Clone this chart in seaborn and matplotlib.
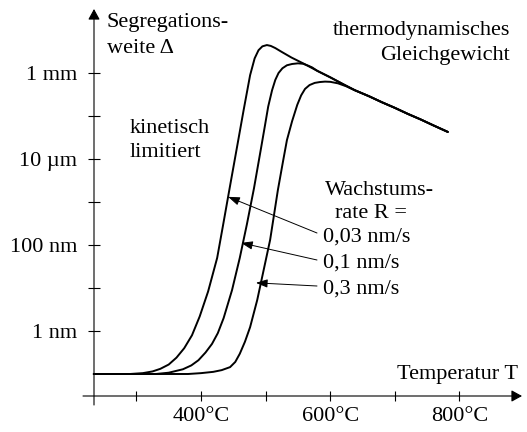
import numpy as np
import pandas as pd
import matplotlib
matplotlib.use('Agg')
import matplotlib.pyplot as plt
import seaborn as sns

# growth rates R, one curve each
rates = ['0,03 nm/s', '0,1 nm/s', '0,3 nm/s']

# temperature (°C) and log10 of segregation width (m), kinetic part of each curve
t_003 = [234, 290, 310, 325, 337, 350, 362, 374, 386, 398, 411, 425, 434, 445,
         456, 466, 476, 483, 489, 495, 502]
lg_003 = [-10.0, -10.0, -9.98, -9.94, -9.88, -9.78, -9.62, -9.40, -9.10, -8.66,
          -8.08, -7.30, -6.55, -5.62, -4.70, -3.86, -3.05, -2.66, -2.47, -2.38, -2.35]

t_01 = [234, 330, 350, 372, 385, 396, 407, 417, 426, 435, 448, 460, 471, 482,
        493, 499, 504, 510, 515, 520, 526, 533, 541, 550, 558, 566, 572]
lg_01 = [-10.0, -10.0, -9.97, -9.89, -9.80, -9.68, -9.50, -9.30, -9.05, -8.70,
         -8.05, -7.30, -6.52, -5.68, -4.74, -4.22, -3.78, -3.40, -3.16, -3.00,
         -2.89, -2.82, -2.79, -2.775, -2.785, -2.83, -2.87]

t_03 = [234, 380, 400, 419, 432, 445, 453, 460, 468, 476, 487, 496, 507, 519,
        527, 533, 541, 549, 555, 561, 568, 576, 584, 592, 600, 612, 625]
lg_03 = [-10.0, -10.0, -9.98, -9.95, -9.91, -9.84, -9.72, -9.53, -9.25, -8.91,
         -8.28, -7.65, -6.88, -5.72, -5.05, -4.56, -4.12, -3.74, -3.52, -3.37,
         -3.28, -3.23, -3.21, -3.20, -3.205, -3.24, -3.31]

# thermodynamic equilibrium line (shared once the curves join it)
t_eq = [508, 515, 525, 540, 560, 580, 600, 620, 638, 660, 680, 700, 720, 740, 760, 782]
lg_eq = [-2.37, -2.42, -2.51, -2.64, -2.79, -2.95, -3.10, -3.26, -3.40, -3.54,
         -3.68, -3.81, -3.95, -4.08, -4.22, -4.37]

y_ticks = [1e-9, 1e-7, 1e-5, 1e-3]
y_labels = ['1 nm', '100 nm', '10 µm', '1 mm']
y_minor = [1e-8, 1e-6, 1e-4]
x_ticks = [400, 600, 800]
x_labels = ['400°C', '600°C', '800°C']
x_minor = [300, 500, 700]

rows = []
for rate, ts, lgs, t_join in [(rates[0], t_003, lg_003, 505),
                              (rates[1], t_01, lg_01, 575),
                              (rates[2], t_03, lg_03, 630)]:
    for t, lg in zip(ts, lgs):
        rows.append((rate, t, 10.0 ** lg))
    for t, lg in zip(t_eq, lg_eq):
        if t > t_join:
            rows.append((rate, t, 10.0 ** lg))
df = pd.DataFrame(rows, columns=['rate', 'T', 'delta'])

sns.set_theme(style='white')
plt.rcParams['font.family'] = ['Liberation Serif', 'DejaVu Serif']
FS = 16

W, H = 527, 432
fig = plt.figure(figsize=(W / 100, H / 100), dpi=100)
ax = fig.add_axes([0, 0, 1, 1])


def fx(px):
    return px / W


def fy(py):
    return 1 - py / H


sns.lineplot(data=df, x='T', y='delta', hue='rate', palette=['black'] * 3,
             sort=False, estimator=None, linewidth=1.4, legend=False, ax=ax)

ax.set_yscale('log')
ax.set_xlim(88.85, 904.6)
ax.set_ylim(10 ** -11.349, 10 ** -1.302)
ax.set_xlabel('')
ax.set_ylabel('')

for s in ax.spines.values():
    s.set_color('none')
ax.spines['left'].set_position(('data', 234.4))
ax.spines['bottom'].set_position(('data', 10 ** -10.512))
ax.yaxis.set_ticks_position('left')
ax.xaxis.set_ticks_position('bottom')

ax.set_yticks(y_ticks, y_labels)
ax.set_yticks(y_minor, minor=True)
ax.yaxis.set_minor_formatter(matplotlib.ticker.NullFormatter())
ax.set_xticks(x_ticks, x_labels)
ax.set_xticks(x_minor, minor=True)
ax.tick_params(axis='y', which='both', direction='inout', length=8.6, width=0.8,
               pad=8, labelsize=FS, color='black', labelcolor='black')
ax.tick_params(axis='x', which='both', direction='inout', length=7.2, width=0.8,
               pad=4, labelsize=FS, color='black', labelcolor='black')
ax.grid(False)

# axis lines with arrow heads
ax_arrow = dict(arrowstyle='-|>,head_length=0.4,head_width=0.22', color='black',
                lw=0.8, mutation_scale=16, shrinkA=0, shrinkB=0)
ax.annotate('', xy=(fx(94), fy(9)), xytext=(fx(94), fy(405)),
            xycoords='axes fraction', textcoords='axes fraction', arrowprops=ax_arrow)
ax.annotate('', xy=(fx(522), fy(396)), xytext=(fx(83), fy(396)),
            xycoords='axes fraction', textcoords='axes fraction', arrowprops=ax_arrow)

txt = dict(transform=ax.transAxes, fontsize=FS, va='baseline', color='black')
ax.text(fx(107), fy(27), 'Segregations-', ha='left', **txt)
ax.text(fx(107), fy(53), 'weite Δ', ha='left', **txt)
ax.text(fx(510), fy(35), 'thermodynamisches', ha='right', **txt)
ax.text(fx(510), fy(60), 'Gleichgewicht', ha='right', **txt)
ax.text(fx(130), fy(133), 'kinetisch', ha='left', **txt)
ax.text(fx(130), fy(157), 'limitiert', ha='left', **txt)
ax.text(fx(325), fy(195), 'Wachstums-', ha='left', **txt)
ax.text(fx(335), fy(218), 'rate R =', ha='left', **txt)
ax.text(fx(518), fy(379), 'Temperatur T', ha='right', **txt)

# rate labels with arrows pointing to their curves
tips = [(442, 10 ** -5.88), (462, 10 ** -6.95), (485, 10 ** -7.88)]
tails = [233, 260, 286]
bases = [242, 268, 294]
rate_arrow = dict(arrowstyle='-|>,head_length=0.5,head_width=0.18', color='black',
                  lw=0.7, mutation_scale=14, shrinkA=0, shrinkB=0)
for rate, tip, ty, by in zip(rates, tips, tails, bases):
    ax.text(fx(323), fy(by), rate, ha='left', **txt)
    ax.annotate('', xy=tip, xycoords='data', xytext=(fx(317), fy(ty)),
                textcoords='axes fraction', arrowprops=rate_arrow)

fig.savefig('out.png', dpi=100)
